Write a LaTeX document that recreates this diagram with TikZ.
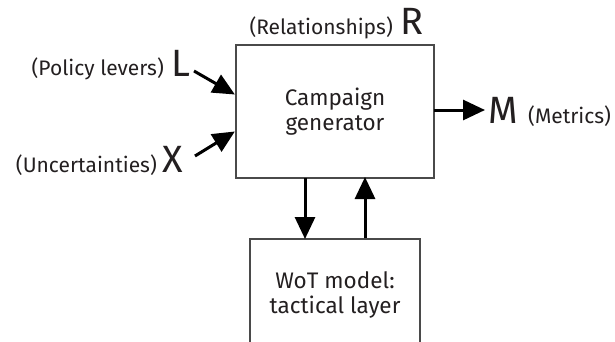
\documentclass[tikz,border=0pt]{standalone}
\usepackage{fontspec}
\setmainfont{Fira Sans}[Ligatures=NoCommon]
\usetikzlibrary{arrows.meta}
\definecolor{txt}{HTML}{231F20}
\definecolor{boxline}{HTML}{4A4A4A}
\tikzset{
  blockbox/.style={draw=boxline, line width=1.3pt, rectangle, inner sep=0pt, align=center,
    text=txt, font=\fontsize{22.5}{25}\selectfont},
  bigletter/.style={inner sep=0pt, text=txt, font=\fontsize{38}{38}\selectfont},
  smalllabel/.style={inner sep=0pt, text=txt, font=\fontsize{21}{24}\selectfont},
  flow/.style={draw=black, line width=3pt, -{Triangle[length=22pt,width=20pt]}, shorten >=-1pt}
}
\begin{document}
\begin{tikzpicture}[x=1pt,y=-1pt]
\useasboundingbox (0,0) rectangle (615,341);
\clip (0,0) rectangle (615,341);
% main box
\node[blockbox, minimum width=198pt, minimum height=133pt] (main) at (335,111.5) {Campaign\\generator};
% bottom box (extends past the lower edge)
\node[blockbox, minimum width=170pt, minimum height=112pt] (wot) at (335,295) {WoT model:\\tactical layer};
% letters and labels
\node[bigletter, anchor=base west] (L) at (171,76) {L};
\node[smalllabel, anchor=base east] (Ltxt) at (164,75) {(Policy levers)};
\node[bigletter, anchor=base west] (X) at (162,172) {X};
\node[smalllabel, anchor=base east] (Xtxt) at (157,172) {(Uncertainties)};
\node[bigletter, anchor=base west] (R) at (400,34) {R};
\node[smalllabel, anchor=base east] (Rtxt) at (393,34) {(Relationships)};
\node[bigletter, anchor=base west] (M) at (488,123) {M};
\node[smalllabel, anchor=base west] (Mtxt) at (528,123) {(Metrics)};
% arrow ends on the boxes
\coordinate (Lstart) at (194,71);
\coordinate (Lend) at (234,94);
\coordinate (Xstart) at (195,156);
\coordinate (Xend) at (234,132);
\coordinate (Mstart) at (434,110);
\coordinate (Mend) at (484,110);
\coordinate (downA) at (305,178);
\coordinate (downB) at (305,238);
\coordinate (upA) at (365,238);
\coordinate (upB) at (365,178);
\draw[flow] (Lstart) -- (Lend);
\draw[flow] (Xstart) -- (Xend);
\draw[flow] (Mstart) -- (Mend);
\draw[flow] (downA) -- (downB);
\draw[flow] (upA) -- (upB);
\end{tikzpicture}
\end{document}
